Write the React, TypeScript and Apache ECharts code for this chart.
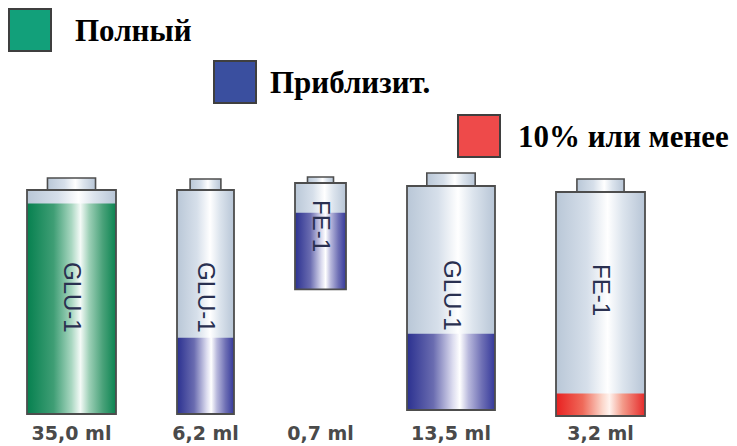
import React, { useEffect, useRef } from "react";
import * as echarts from "echarts";

// ---- data ----
const reagents = ["GLU-1", "GLU-1", "FE-1", "GLU-1", "FE-1"];
const volumeLabels = ["35,0 ml", "6,2 ml", "0,7 ml", "13,5 ml", "3,2 ml"];
const fillPercent = [94, 34, 72, 34, 10];
const statusOf = [0, 1, 1, 1, 2];
const statusNames = ["Полный", "Приблизит.", "10% или менее"];

// ---- styles / sizes ----
const statusColors = ["#12a07a", "#3a4f9f", "#ee4a4a"];
const bottleWidths = [89, 57, 51, 88, 89];
const bottleHeightFrac = [1, 1, 0.475, 1, 1];
const bottleLift = [0, 0, 7, 4, -2];
const capWidthFrac = [0.54, 0.54, 0.51, 0.55, 0.53];
const capHeights = [12, 11, 6, 13, 13];
const textStart = [72, 72, 17, 74, 72];
const GAP = 61;
const legendLeft = [8, 213, 457];
const legendTop = [8, 60, 114];
const legendTextPad = [19, 9, 13];

const fillStops = [
  [
    [0, "#06804f"], [0.3, "#3f9e75"], [0.5, "#a9d7c1"], [0.6, "#f4faf7"],
    [0.7, "#9ccfb6"], [0.85, "#4aa27a"], [1, "#0a8350"],
  ],
  [
    [0, "#2b3190"], [0.3, "#6a6cb0"], [0.52, "#dcdcef"], [0.6, "#ffffff"],
    [0.7, "#b8b8dc"], [0.85, "#6f70b5"], [1, "#34389a"],
  ],
  [
    [0, "#e82020"], [0.3, "#ef6a5a"], [0.52, "#fbd6ca"], [0.6, "#fff3ee"],
    [0.75, "#f39b8a"], [1, "#e52a2a"],
  ],
];
const glassStops = [
  [0, "#b9c7d7"], [0.35, "#d6dfea"], [0.58, "#ffffff"], [0.75, "#dce4ed"], [1, "#b7c5d6"],
];

const grad = (stops: any[]) =>
  new echarts.graphic.LinearGradient(
    0, 0, 1, 0,
    stops.map(([offset, color]) => ({ offset, color }))
  );

// horizontal packing of bottles
const centers: number[] = [];
let acc = 0;
bottleWidths.forEach((w, i) => {
  centers.push(acc + w / 2);
  acc += w + (i < bottleWidths.length - 1 ? GAP : 0);
});
const totalSpan = acc;

export default function App() {
  const ref = useRef<HTMLDivElement>(null);
  useEffect(() => {
    if (!ref.current) return;
    const chart = echarts.init(ref.current, null, { renderer: "svg" });

    const renderItem = (params: any, api: any) => {
      const idx = api.value(2);
      const cx = api.coord([api.value(0), 0])[0];
      const yTop0 = api.coord([0, 100])[1];
      const yBottom0 = api.coord([0, 0])[1];
      const fullH = yBottom0 - yTop0;
      const frac = bottleHeightFrac[idx];
      const lift = bottleLift[idx];
      const top = yTop0 - lift;
      const h = fullH * frac;
      const bottom = top + h;
      const fillTop = top + (api.coord([0, api.value(1)])[1] - yTop0) * frac;
      const w = bottleWidths[idx];
      const left = cx - w / 2;
      const capW = w * capWidthFrac[idx];
      const capH = capHeights[idx];
      const st = statusOf[idx];
      return {
        type: "group",
        children: [
          {
            type: "rect",
            shape: { x: cx - capW / 2, y: top - capH, width: capW, height: capH },
            style: { fill: grad(glassStops), stroke: "#4d4d4d", lineWidth: 1.6 },
          },
          {
            type: "rect",
            shape: { x: left, y: top, width: w, height: h },
            style: { fill: grad(glassStops) },
          },
          {
            type: "rect",
            shape: { x: left, y: fillTop, width: w, height: bottom - fillTop },
            style: { fill: grad(fillStops[st]) },
          },
          {
            type: "rect",
            shape: { x: left, y: top, width: w, height: h },
            style: { fill: "none", stroke: "#4d4d4d", lineWidth: 1.8 },
          },
          {
            type: "text",
            x: cx + 1,
            y: top + textStart[idx],
            rotation: -Math.PI / 2,
            style: {
              text: reagents[idx],
              x: 0,
              y: 0,
              align: "left",
              verticalAlign: "middle",
              fontFamily: "Liberation Sans",
              fontSize: 24,
              fill: "#2a3050",
            },
          },
          {
            type: "text",
            x: cx,
            y: yBottom0 + 19,
            style: {
              text: volumeLabels[idx],
              align: "center",
              verticalAlign: "middle",
              fontFamily: "DejaVu Sans",
              fontWeight: "bold",
              fontSize: 19,
              fill: "#4a4a4a",
            },
          },
        ],
      };
    };

    const series = statusNames.map((name, s) => ({
      type: "custom",
      name,
      renderItem,
      itemStyle: { color: statusColors[s] },
      data: fillPercent
        .map((f, i) => ({ i, f }))
        .filter(({ i }) => statusOf[i] === s)
        .map(({ i, f }) => [centers[i], f, i]),
      encode: { x: 0, y: 1 },
    }));

    chart.setOption({
      animation: false,
      grid: { left: 27, top: 190, width: totalSpan, height: 224 },
      xAxis: { type: "value", min: 0, max: totalSpan, show: false },
      yAxis: { type: "value", min: 0, max: 100, show: false },
      legend: statusNames.map((name, i) => ({
        data: [{ name, itemStyle: { color: statusColors[i] } }],
        left: legendLeft[i],
        top: legendTop[i],
        padding: 0,
        icon: "rect",
        itemWidth: 42,
        itemHeight: 42,
        selectedMode: false,
        itemStyle: { borderColor: "#3f3f3f", borderWidth: 2 },
        textStyle: {
          fontFamily: "Liberation Serif",
          fontWeight: "bold",
          fontSize: 31,
          color: "#000",
          padding: [0, 0, 4, legendTextPad[i]],
        },
      })),
      series,
    });
    return () => chart.dispose();
  }, []);

  return (
    <div
      ref={ref}
      style={{ position: "fixed", left: 0, top: 0, width: 737, height: 446, background: "#fff" }}
    />
  );
}
